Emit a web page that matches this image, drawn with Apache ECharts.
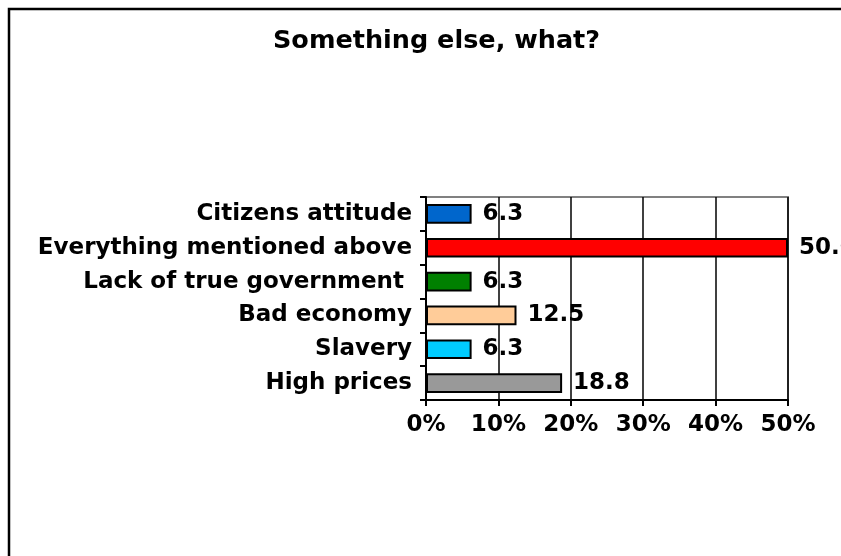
<!DOCTYPE html>
<html>
<head>
<meta charset="utf-8">
<script src="https://cdn.jsdelivr.net/npm/echarts@6/dist/echarts.min.js"></script>
<style>
  html, body { margin: 0; padding: 0; background: #fff; }
  #chart { width: 841px; height: 556px; }
</style>
</head>
<body>
<div id="chart"></div>
<script>
// Answers, listed top to bottom as shown
const categories = [
  'Citizens attitude',
  'Everything mentioned above',
  'Lack of true government ',
  'Bad economy',
  'Slavery',
  'High prices'
];
const values = [6.3, 50.0, 6.3, 12.5, 6.3, 18.8];
const barColors = ['#0066CC', '#FF0000', '#008000', '#FFCC99', '#00CCFF', '#999999'];
const xTicks = [0, 10, 20, 30, 40, 50];

const FONT = '"DejaVu Sans", Verdana, sans-serif';

const chart = echarts.init(document.getElementById('chart'), null, { renderer: 'canvas' });

chart.setOption({
  animation: false,
  backgroundColor: '#fff',
  title: {
    text: 'Something else, what?',
    left: 268,
    top: 23,
    textStyle: {
      fontFamily: FONT,
      fontWeight: 'bold',
      fontSize: 25.5,
      color: '#000'
    }
  },
  graphic: [{
    // chart frame, running past the right and bottom edges
    type: 'rect',
    shape: { x: 9, y: 9, width: 900, height: 600 },
    style: { fill: null, stroke: '#000', lineWidth: 2.5 },
    silent: true,
    z: -1
  }, {
    // top and right edges of the plot area
    type: 'polyline',
    shape: { points: [[426, 197], [788, 197], [788, 400]] },
    style: { stroke: '#808080', lineWidth: 2, fill: null },
    silent: true,
    z: 0
  }],
  grid: {
    left: 426,
    right: 53,
    top: 197,
    bottom: 156,
    containLabel: false
  },
  xAxis: {
    type: 'value',
    min: xTicks[0],
    max: xTicks[xTicks.length - 1],
    interval: 10,
    axisLine: { show: true, lineStyle: { color: '#000', width: 2 } },
    axisTick: { show: true, length: 6, lineStyle: { color: '#000', width: 2 } },
    splitLine: { show: true, lineStyle: { color: '#000', width: 1.5 } },
    axisLabel: {
      formatter: v => v + '%',
      fontFamily: FONT,
      fontWeight: 'bold',
      fontSize: 23,
      color: '#000',
      margin: 14
    }
  },
  yAxis: {
    type: 'category',
    data: categories,
    inverse: true,
    axisLine: { show: true, lineStyle: { color: '#000', width: 2 } },
    axisTick: { show: true, length: 6, lineStyle: { color: '#000', width: 2 } },
    axisLabel: {
      fontFamily: FONT,
      fontWeight: 'bold',
      fontSize: 23,
      color: '#000',
      margin: 14
    },
    splitLine: { show: false }
  },
  series: [{
    type: 'bar',
    data: values.map((v, i) => ({ value: v, itemStyle: { color: barColors[i] } })),
    barWidth: '58%',
    itemStyle: { borderColor: '#000', borderWidth: 2 },
    label: {
      show: true,
      position: 'right',
      distance: 11,
      formatter: p => p.value.toFixed(1),
      fontFamily: FONT,
      fontWeight: 'bold',
      fontSize: 23,
      color: '#000'
    }
  }]
});
</script>
</body>
</html>
